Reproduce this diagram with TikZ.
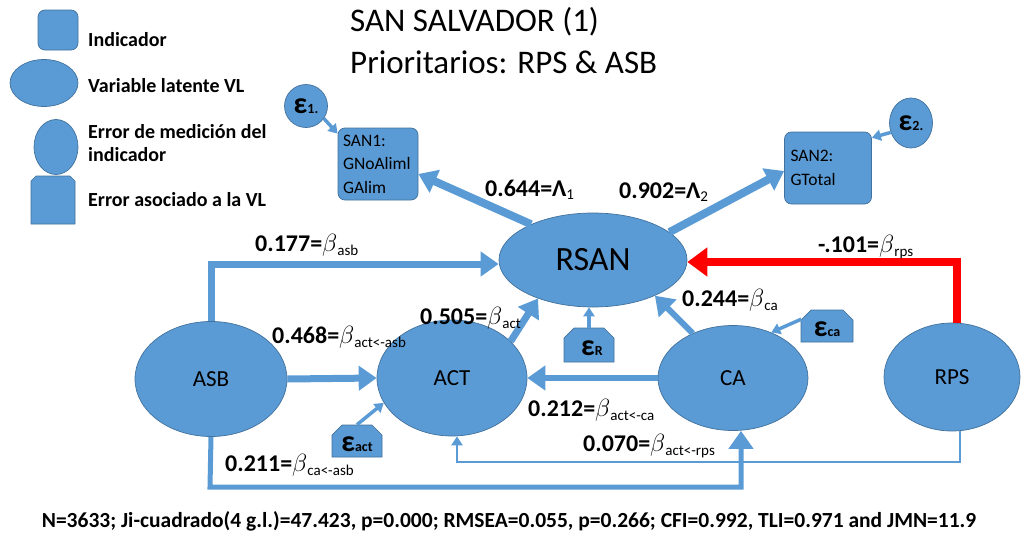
\documentclass[tikz,border=0pt]{standalone}
\usepackage{fontspec}
\setmainfont{Carlito}
\usetikzlibrary{arrows.meta,shapes.misc,shapes.geometric}
\definecolor{fillb}{HTML}{5B9BD5}
\definecolor{edgeb}{HTML}{41719C}
\definecolor{redarr}{HTML}{FF0000}
\newcommand{\blab}[2]{\textbf{#1=}$\beta$\raisebox{-0.35ex}{\fontsize{15}{15}\selectfont #2}}
\newcommand{\llab}[2]{\textbf{#1=Λ}\raisebox{-0.3ex}{\fontsize{15}{15}\selectfont #2}}
\newcommand{\eps}[1]{{\fontsize{30}{30}\selectfont\bfseries ε}{\fontsize{14}{14}\selectfont\bfseries #1}}
\begin{document}
\begin{tikzpicture}[x=1pt,y=-1pt,
  lat/.style={ellipse, fill=fillb, draw=edgeb, line width=0.7pt, inner sep=0pt, font=\fontsize{23}{23}\selectfont},
  ind/.style={rectangle, rounded corners=7pt, fill=fillb, draw=edgeb, line width=0.7pt, inner sep=0pt, align=left, font=\fontsize{17.5}{23.5}\selectfont},
  errc/.style={ellipse, fill=fillb, draw=edgeb, line width=0.7pt, inner sep=0pt},
  errv/.style={chamfered rectangle, chamfered rectangle corners={north west,north east}, chamfered rectangle xsep=5pt, chamfered rectangle ysep=5pt, fill=fillb, draw=edgeb, line width=0.7pt, inner sep=0pt, text height=21pt, text depth=0pt},
  legtxt/.style={anchor=west, inner sep=0pt, align=left, font=\fontsize{20}{23}\selectfont\bfseries},
  lab/.style={anchor=west, inner sep=0pt, font=\fontsize{24}{24}\selectfont},
  arr/.style={draw=fillb, line width=#1, -{Triangle[length=18pt,width=24pt]}},
  arr/.default=7pt,
  thinarr/.style={draw=fillb, line width=#1, -{Triangle[length=9pt,width=11pt]}},
  thinarr/.default=3.5pt
]
\useasboundingbox (0,0) rectangle (1021,533);
% legend
\node[ind, minimum width=40pt, minimum height=40pt] (legInd) at (58,30) {};
\node[lat, minimum width=68pt, minimum height=47pt] (legLat) at (44,83) {};
\node[errc, minimum width=44pt, minimum height=55pt] (legErr) at (56,147) {};
\node[errv, minimum width=44pt, minimum height=48pt] (legErrV) at (53,200) {};
\node[legtxt] (tInd) at (88,40) {Indicador};
\node[legtxt] (tLat) at (88,86) {Variable latente VL};
\node[legtxt] (tErr) at (88,143) {Error de medición del\\indicador};
\node[legtxt] (tErrV) at (88,200) {Error asociado a la VL};
% title
\node[anchor=west, inner sep=0pt, font=\fontsize{33}{33}\selectfont] (title1) at (350,22) {SAN SALVADOR (1)};
\node[anchor=west, inner sep=0pt, font=\fontsize{33}{33}\selectfont] (title2) at (350,62) {Prioritarios: RPS \& ASB};
% nodes
\node[errc, minimum width=43pt, minimum height=43pt] (e1) at (306,106) {\eps{1.}};
\node[ind, minimum width=80pt, minimum height=72pt, text width=70pt] (SAN1) at (378,164) {SAN1:\\GNoAliml\\GAlim};
\node[ind, minimum width=87pt, minimum height=72pt, text width=75pt] (SAN2) at (828,168) {SAN2:\\GTotal\\[4pt]};
\node[errc, minimum width=43pt, minimum height=50pt] (e2) at (911,123) {\eps{2.}};
\node[lat, minimum width=188pt, minimum height=94pt, font=\fontsize{34}{34}\selectfont] (RSAN) at (593,260) {RSAN};
\node[lat, minimum width=152pt, minimum height=115pt] (ASB) at (211,379) {ASB};
\node[lat, minimum width=150pt, minimum height=116pt] (ACT) at (452,378) {ACT};
\node[lat, minimum width=150pt, minimum height=105pt] (CA) at (733,378) {CA};
\node[lat, minimum width=136pt, minimum height=108pt] (RPS) at (952,377) {RPS};
\node[errv, minimum width=50pt, minimum height=34pt] (eR) at (589,345) {\hspace*{6pt}\eps{R}};
\node[errv, minimum width=50pt, minimum height=32pt] (eact) at (357,441) {\eps{act}};
\node[errv, minimum width=52pt, minimum height=32pt] (eca) at (827,326) {\eps{ca}};
% connectors
\coordinate (b1) at (210,487);
\coordinate (b2) at (960,462);
\draw[arr=5pt] (ASB.south) -- (b1) -| ([xshift=8pt]CA.south);
\draw[thinarr=2.5pt] (RPS.south -| b2) -- (b2) -| ([xshift=5pt]ACT.south);
\draw[arr=8pt] (RSAN.150) -- ([yshift=-10pt]SAN1.east);
\draw[arr=8pt] (RSAN.20) -- ([yshift=-3pt]SAN2.west);
\draw[arr] (ASB.north) |- ([yshift=-4pt]RSAN.west);
\draw[arr] (ASB.east) -- (ACT.west);
\draw[arr] (ACT.32) -- (RSAN.215);
\draw[arr=6pt] (CA.132) -- (RSAN.330);
\draw[arr=6pt] (CA.west) -- (ACT.east);
\draw[draw=redarr, line width=8pt, -{Triangle[length=20pt,width=28pt]}] ([xshift=5pt]RPS.north) |- ([yshift=-2pt]RSAN.east);
\draw[thinarr] (e1.-35) -- ([yshift=-6pt]SAN1.north west);
\draw[thinarr] (e2.205) -- ([yshift=-6pt]SAN2.north east);
\draw[thinarr] (eR.north) -- (eR.north |- RSAN.south);
\draw[thinarr] (eact.north) -- (ACT.200);
\draw[thinarr] (eca.165) -- (CA.50);
% labels
\node[lab] (l644) at (485,190) {\llab{0.644}{1}};
\node[lab] (l902) at (619,192) {\llab{0.902}{2}};
\node[lab] (l177) at (255,245) {\blab{0.177}{asb}};
\node[lab] (l468) at (272,337) {\blab{0.468}{act<-asb}};
\node[lab] (l505) at (420,318) {\blab{0.505}{act}};
\node[lab] (l244) at (682,300) {\blab{0.244}{ca}};
\node[lab] (l101) at (818,247) {\blab{-.101}{rps}};
\node[lab] (l212) at (528,410) {\blab{0.212}{act<-ca}};
\node[lab] (l070) at (583,446) {\blab{0.070}{act<-rps}};
\node[lab] (l211) at (225,465) {\blab{0.211}{ca<-asb}};
\node[inner sep=0pt, font=\fontsize{21.5}{21.5}\selectfont\bfseries] (foot) at (509,521) {N=3633; Ji-cuadrado(4 g.l.)=47.423, p=0.000; RMSEA=0.055, p=0.266; CFI=0.992, TLI=0.971 and JMN=11.9};
\end{tikzpicture}
\end{document}
